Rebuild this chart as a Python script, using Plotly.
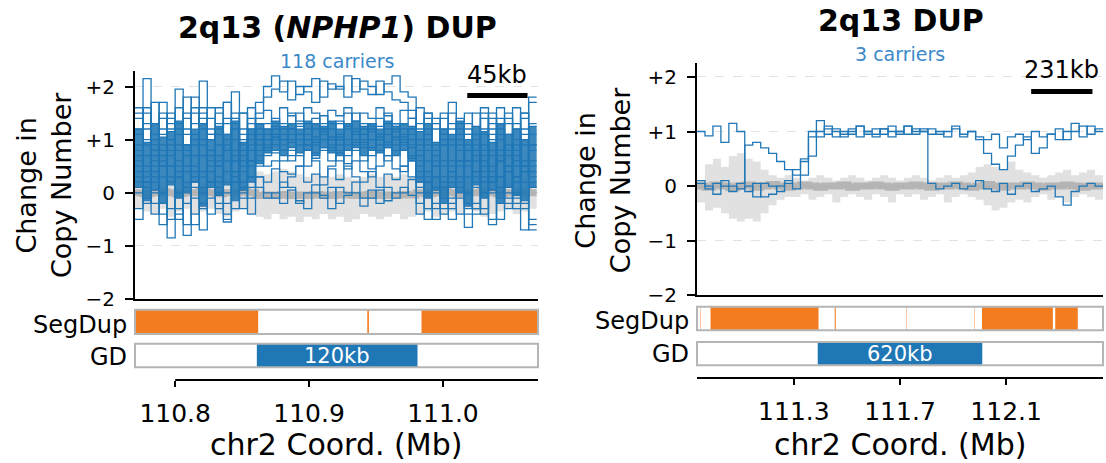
import plotly.graph_objects as go

W, H = 1106, 463
FONT = "DejaVu Sans, Liberation Sans, Arial, sans-serif"
BLUE = "#2077b6"
ORANGE = "#f47c20"
SUBBLUE = "#3b89c9"

# ---------------- data ----------------
titles = ["<b>2q13 (<i>NPHP1</i>) DUP</b>", "<b>2q13 DUP</b>"]
n_carriers = [118, 3]
scale_kb = [45, 231]
x_range_L = [110.770, 111.071]
x_range_R = [110.935, 112.465]
xtick_L = [110.8, 110.9, 111.0]
xtick_R = [111.3, 111.7, 112.1]
ytick_vals = [2, 1, 0, -1, -2]
ytick_text = ["+2", "+1", "0", "\u22121", "\u22122"]

binL_start, binL_width = 110.770, 0.006
binR_start, binR_width = 110.935, 0.030

segdup_L = [(110.770, 110.862), (110.9435, 110.9447), (110.984, 111.071)]
segdup_R = [(110.9485, 110.9500), (110.986, 111.393), (111.454, 111.458),
            (111.7245, 111.7260), (111.9795, 111.9810), (112.009, 112.276),
            (112.285, 112.370)]
gd_L = (110.861, 110.981)
gd_R = (111.390, 112.010)

# left panel: control distribution (50 bins)
ctrlL_lo = [-0.3, -0.35, -0.4, -0.3, -0.45, -0.35, -0.3, -0.4, -0.35, -0.3, -0.4, -0.45, -0.35, -0.3, -0.4,
            -0.45, -0.5, -0.4, -0.5, -0.45, -0.55, -0.45, -0.5, -0.4, -0.5, -0.45, -0.55, -0.5, -0.4, -0.45,
            -0.5, -0.45, -0.4, -0.5, -0.45,
            -0.4, -0.35, -0.45, -0.4, -0.35, -0.4, -0.3, -0.35, -0.45, -0.4, -0.35, -0.3, -0.4, -0.35, -0.3]
ctrlL_hi = [0.25, 0.2, 0.3, 0.2, 0.25, 0.3, 0.2, 0.25, 0.2, 0.3, 0.25, 0.2, 0.3, 0.25, 0.2,
            0.4, 0.35, 0.4, 0.45, 0.4, 0.35, 0.3, 0.35, 0.3, 0.3, 0.35, 0.3, 0.25, 0.3, 0.35,
            0.3, 0.35, 0.3, 0.35, 0.3,
            0.3, 0.25, 0.3, 0.25, 0.2, 0.3, 0.25, 0.2, 0.25, 0.3, 0.25, 0.2, 0.25, 0.3, 0.2]
ctrlL_med = [0.0, -0.02, 0.0, 0.02, 0.0, -0.02, 0.0, 0.0, 0.02, 0.0, -0.02, 0.0, 0.0, 0.02, 0.0,
             -0.05, -0.04, -0.05, -0.03, -0.05, -0.04, -0.05, -0.03, -0.04, -0.05,
             -0.03, -0.04, -0.05, -0.04, -0.03, -0.05, -0.04, -0.05, -0.03, -0.04,
             0.0, -0.02, 0.0, 0.02, 0.0, -0.02, 0.0, 0.0, 0.02, 0.0, -0.02, 0.0, 0.0, 0.02, 0.0]

# left panel: dense core spanned by most of the 118 carrier traces
coreL_lo = [0.1, -0.15, 0.05, -0.2, 0.15, -0.1, 0.0, 0.2, -0.25, 0.1, -0.05, 0.15, -0.15, 0.05, 0.2,
            0.55, 0.75, 0.8, 0.7, 0.85, 0.75, 0.8, 0.7, 0.85, 0.75, 0.7, 0.8, 0.85, 0.7, 0.8,
            0.75, 0.85, 0.7, 0.8, 0.6,
            0.2, -0.1, 0.05, -0.2, 0.1, 0.0, -0.25, 0.15, -0.1, 0.05, -0.2, 0.1, -0.05, -0.15, 0.1]
coreL_hi = [1.2, 0.95, 1.3, 1.05, 1.15, 1.35, 0.9, 1.2, 1.3, 1.0, 1.25, 1.1, 1.35, 0.95, 1.2,
            1.3, 1.2, 1.35, 1.25, 1.3, 1.2, 1.35, 1.3, 1.25, 1.35, 1.2, 1.3, 1.35, 1.25, 1.3,
            1.2, 1.35, 1.25, 1.3, 1.25,
            1.15, 1.3, 0.95, 1.2, 1.1, 1.35, 1.0, 1.25, 1.15, 0.95, 1.3, 1.1, 1.2, 1.0, 1.25]

# left panel: representative carrier traces
carL_01 = [0.9, 1.5, 0.4, 1.1, 0.7, 1.6, 0.2, 1.0, 1.3, 0.5, 1.2, 0.8, 1.4, 0.6, 1.0,
           1.7, 2.0, 2.2, 1.9, 2.1, 1.85, 2.0, 2.15, 1.8, 2.05, 1.95, 2.2, 1.9, 2.1, 2.0, 1.85, 2.05, 2.2, 1.9, 1.8,
           0.5, 1.1, -0.2, 0.9, 0.3, 1.3, 0.0, 0.8, 1.2, 0.4, 1.0, -0.3, 0.7, 1.5, 0.6]
carL_02 = [0.3, 2.15, 0.8, -0.2, 1.0, 0.6, 1.4, -0.4, 0.9, 1.1, 0.0, 1.7, 0.4, 1.2, 0.8,
           1.5, 1.8, 1.95, 2.1, 1.75, 2.0, 1.9, 1.7, 2.1, 1.95, 2.0, 1.8, 2.15, 1.95, 1.85, 2.1, 1.9, 1.75, 1.7, 1.55,
           1.2, 0.2, 0.9, 1.4, -0.1, 0.6, 1.1, 0.3, 1.6, 0.0, 0.8, 1.3, -0.2, 0.5, 1.8]
carL_03 = [-0.3, 0.2, -0.2, 0.5, -0.85, 0.3, -0.8, 0.1, -0.7, 0.6, -0.2, -0.55, 0.4, -0.1, 0.3,
           0.1, -0.1, 0.0, -0.2, 0.05, -0.15, -0.3, 0.0, -0.1, 0.1, -0.2, -0.05, 0.0, -0.25, -0.1, 0.05, -0.15, 0.0, 0.1, -0.05,
           -0.2, 0.3, -0.5, 0.1, -0.3, 0.6, -0.65, -0.4, 0.2, -0.6, 0.0, 0.4, -0.3, -0.7, 0.1]
carL_04 = [0.4, -0.1, 0.7, 0.0, 0.5, -0.4, 0.9, 0.2, -0.3, 0.8, 0.3, -0.2, 0.6, 0.1, -0.1,
           0.3, 0.0, -0.1, 0.2, 0.1, -0.2, 0.0, 0.15, -0.05, -0.3, 0.1, 0.0, 0.2, -0.1, 0.05, -0.2, 0.1, -0.1, 0.0, 0.25,
           0.0, -0.3, 0.5, -0.1, 0.4, 0.2, -0.2, 0.7, -0.4, 0.3, 0.6, -0.1, 0.2, -0.3, 0.5]
carL_05 = [0.6, 1.2, 0.0, 0.9, 1.4, 0.3, 1.1, 0.5, -0.2, 1.0, 0.7, 1.3, 0.2, 0.8, 1.1,
           1.0, 1.2, 0.9, 1.1, 0.8, 1.3, 1.0, 0.95, 1.15, 0.85, 1.05, 1.25, 0.9, 1.1, 1.0, 0.8, 1.2, 1.05, 0.9, 1.1,
           0.7, 0.2, 1.2, 0.5, 0.9, -0.1, 1.1, 0.6, 0.3, 1.4, 0.8, 0.1, 1.0, 0.4, 0.9]
carL_06 = [1.1, 0.4, 0.8, 1.5, 0.5, 1.95, 0.1, 1.3, 2.1, 0.2, 1.5, 0.4, 1.0, 0.0, 1.2,
           0.9, 0.8, 1.1, 1.3, 0.95, 0.7, 1.2, 1.05, 0.85, 1.3, 1.0, 0.8, 1.15, 0.95, 1.25, 1.05, 0.85, 1.0, 1.2, 0.9,
           0.2, 0.8, 0.5, -0.3, 1.0, 0.6, 1.3, 0.1, 0.7, 1.1, -0.1, 0.9, 0.5, 1.2, 0.3]
carL_07 = [0.2, 0.9, 1.3, 0.6, -0.5, 1.1, 0.7, 0.3, 1.6, 0.8, 0.1, 0.9, 1.9, 0.5, 0.6,
           1.2, 1.0, 0.75, 0.9, 1.2, 1.1, 0.8, 1.3, 1.0, 0.9, 1.1, 0.7, 1.0, 1.3, 0.85, 1.1, 0.95, 1.3, 0.8, 1.0,
           1.0, 0.4, 0.1, 1.1, 0.6, 0.9, 0.3, 1.5, 0.4, 0.8, 1.2, 0.5, -0.1, 0.9, 1.1]
carL_08 = [0.8, 0.1, 0.6, 1.2, 0.9, -0.3, 0.5, 1.8, 0.3, 1.2, 0.9, -0.5, 0.7, 1.1, 0.3,
           0.8, 1.1, 1.05, 0.8, 1.0, 1.25, 0.9, 0.75, 1.1, 1.2, 0.8, 1.0, 1.1, 0.85, 1.15, 0.9, 1.1, 0.8, 1.05, 1.2,
           0.4, 1.2, 0.8, 0.6, -0.2, 1.1, 0.5, 0.9, 0.0, 1.3, 0.3, 0.7, 1.2, 0.2, -0.7]
carL_09 = [1.4, 0.7, 0.2, 0.5, 1.2, 0.8, 1.5, -0.1, 1.0, 0.4, 1.3, 0.6, 0.8, 1.5, 0.1,
           1.1, 0.85, 1.0, 1.2, 1.1, 0.9, 1.1, 1.2, 0.8, 1.05, 1.3, 0.9, 0.8, 1.2, 1.0, 1.25, 0.9, 1.15, 1.0, 0.85,
           0.9, 0.0, 1.4, 0.2, 1.7, 1.0, 0.6, -0.2, 1.1, 0.5, 1.4, 0.8, 0.3, 1.1, 1.3]
carL_10 = [0.0, 1.0, 0.9, -0.4, 0.8, 0.5, 0.9, 0.7, 1.2, -0.1, 0.6, 1.1, 0.3, 0.9, 1.4,
           0.6, 1.3, 1.1, 1.0, 0.7, 1.0, 1.3, 0.9, 1.2, 1.0, 0.6, 1.2, 1.0, 1.1, 0.7, 1.0, 1.3, 0.9, 1.1, 0.7,
           1.3, 0.6, 0.3, 0.9, 1.2, 0.1, 0.8, 1.0, 0.6, 0.2, 0.7, 1.1, 0.8, 0.6, 0.4]
carL_11 = [0.5, 0.3, 1.1, 0.8, 0.2, 1.3, 0.4, 0.9, 0.7, 1.4, 0.5, 0.2, 1.2, 0.7, 0.5,
           0.7, 0.5, 0.6, 0.4, 0.35, 0.5, 0.8, 0.6, 0.3, 0.5, 0.9, 0.45, 0.6, 0.4, 0.3, 0.5, 0.7, 0.45, 0.4, 0.6,
           0.1, 0.9, 0.7, 0.3, 0.5, 0.8, -0.3, 0.4, 0.9, 0.7, 0.3, 0.0, 0.9, 0.4, 0.8]
carL_12 = [1.2, 0.5, 0.3, 0.7, 1.0, 0.0, 0.8, 1.1, 0.4, 0.7, 0.2, 1.0, 0.6, 0.2, 0.9,
           1.3, 1.0, 1.2, 0.8, 1.5, 1.1, 1.0, 1.4, 1.2, 0.8, 1.0, 1.5, 1.2, 1.0, 1.3, 1.1, 1.5, 1.2, 1.3, 1.4,
           0.6, 1.0, 0.0, 1.2, 0.4, 0.3, 0.9, 0.2, 0.5, 1.0, 0.6, 0.4, 0.6, 1.0, 0.2]
carL_13 = [1.5, 0.2, 1.0, -0.6, 1.3, 0.4, -0.2, 1.6, 0.1, 1.1, -0.3, 1.4, 0.2, 1.0, -0.4,
           1.4, 1.55, 1.3, 1.6, 1.45, 1.35, 1.6, 1.5, 1.3, 1.55, 1.45, 1.6, 1.35, 1.5, 1.4, 1.6, 1.45, 1.3, 1.55, 1.4,
           -0.4, 1.5, 0.3, 1.0, -0.5, 1.2, 0.6, -0.3, 1.4, 0.2, 1.6, -0.2, 1.3, 0.5, -0.5]
carL_14 = [-0.5, 1.3, 0.5, 1.7, -0.3, 0.9, 1.8, -0.6, 1.4, 0.2, 1.6, 0.0, 1.3, -0.3, 1.6,
           0.5, 0.9, 1.4, 0.6, 1.2, 1.5, 0.5, 1.0, 1.45, 0.6, 1.35, 0.55, 1.5, 0.9, 0.45, 1.4, 0.6, 1.3, 0.5, 1.2,
           1.6, -0.5, 1.3, 0.1, 1.5, -0.4, 1.2, 0.4, 1.5, -0.5, 1.1, 1.5, 0.0, 1.4, 1.7]
carL_15 = [1.6, -0.2, 1.7, 0.3, 1.5, -0.5, 1.2, 0.4, 1.5, -0.4, 1.1, 1.7, -0.3, 1.5, 0.6,
           1.0, 0.7, 1.25, 1.0, 0.6, 1.3, 0.9, 0.65, 1.2, 1.0, 0.75, 1.3, 0.95, 0.6, 1.2, 1.0, 0.7, 1.25, 0.95, 0.65,
           0.3, 1.4, -0.3, 1.5, 0.2, 1.4, -0.4, 1.1, -0.3, 1.5, 0.1, 0.5, 1.6, -0.2, 0.9]
carL_16 = [0.7, 1.6, -0.4, 1.4, 0.3, 1.2, -0.6, 1.5, 0.0, 1.6, 0.5, -0.4, 1.5, 0.4, 1.3,
           0.3, 0.2, 0.45, 0.1, 0.3, 0.5, 0.2, 0.35, 0.15, 0.45, 0.25, 0.5, 0.3, 0.2, 0.4, 0.1, 0.35, 0.25, 0.5, 0.3,
           0.8, 1.5, 0.6, -0.4, 1.3, 0.5, 1.5, -0.3, 0.8, 1.2, -0.5, 1.4, 0.3, 1.5, -0.6]
carriers_L = [carL_01, carL_02, carL_03, carL_04, carL_05, carL_06, carL_07, carL_08,
              carL_09, carL_10, carL_11, carL_12, carL_13, carL_14, carL_15, carL_16]

# right panel: control distribution (51 bins)
ctrlR_lo = [-0.3, -0.45, -0.4, -0.5, -0.6, -0.65, -0.6, -0.65, -0.5, -0.35, -0.25, -0.2,
            -0.2, -0.15, -0.25, -0.2, -0.15, -0.3, -0.2, -0.15, -0.2, -0.25,
            -0.15, -0.2, -0.3, -0.15, -0.2, -0.15, -0.25, -0.2, -0.15, -0.3,
            -0.2, -0.15, -0.2, -0.25, -0.35, -0.45, -0.4, -0.3, -0.25, -0.3,
            -0.2, -0.15, -0.25, -0.2, -0.3, -0.2, -0.15, -0.2, -0.25]
ctrlR_hi = [0.1, 0.4, 0.5, 0.35, 0.55, 0.6, 0.5, 0.45, 0.3, 0.2, 0.15, 0.2,
            0.15, 0.1, 0.15, 0.2, 0.15, 0.1, 0.15, 0.2, 0.15, 0.1,
            0.15, 0.2, 0.15, 0.1, 0.15, 0.2, 0.15, 0.1, 0.15, 0.2,
            0.15, 0.2, 0.25, 0.35, 0.4, 0.35, 0.3, 0.45, 0.3, 0.25,
            0.2, 0.15, 0.2, 0.25, 0.3, 0.2, 0.25, 0.3, 0.2]
ctrlR_med = [0.0, -0.02, 0.02, 0.0, -0.03, 0.0, 0.02, -0.02, 0.0, 0.03,
             0.0, -0.02, 0.0, 0.02, 0.0, -0.02, 0.0, 0.0, 0.02, -0.02,
             0.0, 0.0, 0.02, 0.0, -0.02, 0.0, 0.0, 0.02, 0.0, -0.02,
             0.0, 0.0, 0.02, 0.0, -0.02, 0.0, 0.03, 0.0, -0.02, 0.0,
             0.0, 0.02, 0.0, -0.02, 0.0, 0.0, 0.02, 0.0, -0.02, 0.0, 0.0]

# right panel: the 3 carriers
carR_A = [1.0, 0.92, 1.1, 0.8, 1.15, 1.0,
          -0.1, 0.05, -0.2, -0.15, 0.0, 0.1, -0.05, 0.2, 0.55,
          1.2, 0.95, 1.05, 0.9, 1.0, 1.1, 0.95, 0.9, 1.05, 1.0, 0.95, 1.1, 1.0, 1.05,
          0.95, 1.0, 0.9, 1.05, 0.95, 1.0, 0.9, 0.85, 0.95, 0.7, 0.9, 0.95, 0.85, 1.0, 0.9,
          0.95, 1.05, 0.85, 1.0, 1.1, 0.95, 1.05]
carR_B = [0.1, -0.05, 0.05, 0.0, -0.1, 0.05,
          0.75, 0.8, 0.7, 0.6, 0.45, 0.3, 0.2, 0.45, 0.9,
          1.0, 1.05, 0.9, 1.0, 0.95, 1.1, 1.0, 0.95, 1.05, 0.9, 1.0, 1.1, 0.95, 1.0,
          0.05, -0.05, 0.0, 0.05, -0.05, 0.0, 0.1, -0.05, -0.1, 0.05, -0.15, 0.0, 0.05, -0.1,
          -0.05, 0.0, -0.2, -0.35, -0.1, 0.0, 0.05, 0.0]
carR_C = [0.05, 0.0, -0.15, 0.1, 0.0, -0.05,
          0.0, -0.2, 0.05, 0.0, -0.1, 0.05, 0.3, 0.5, 1.0,
          0.9, 1.1, 1.0, 0.95, 1.05, 0.9, 1.0, 1.05, 0.95, 1.1, 1.0, 0.95, 1.05, 1.0,
          1.05, 0.95, 1.0, 1.1, 0.9, 1.0, 0.85, 0.6, 0.4, 0.3, 0.55, 0.75, 0.9, 0.6, 0.7,
          0.95, 0.85, 1.0, 1.15, 0.9, 1.1, 1.0]
carriers_R = [carR_A, carR_B, carR_C]

nL, nR = len(ctrlL_med), len(ctrlR_med)
for arr in [ctrlL_lo, ctrlL_hi, coreL_lo, coreL_hi] + carriers_L:
    assert len(arr) == nL, len(arr)
for arr in [ctrlR_lo, ctrlR_hi] + carriers_R:
    assert len(arr) == nR, len(arr)


def steps(start, width, vals):
    xs = [round(start + width * i, 6) for i in range(len(vals) + 1)]
    ys = list(vals) + [vals[-1]]
    return xs, ys


def py(px):  # pixel row -> paper y
    return 1 - px / H


def pxx(px):  # pixel column -> paper x
    return px / W


fig = go.Figure()


def add_panel(xa, ya, start, width, lo, hi, med, core_lo, core_hi, carriers):
    x, ylo = steps(start, width, lo)
    _, yhi = steps(start, width, hi)
    fig.add_trace(go.Scatter(x=x, y=ylo, mode="lines", line=dict(width=0, shape="hv"),
                             xaxis=xa, yaxis=ya, hoverinfo="skip"))
    fig.add_trace(go.Scatter(x=x, y=yhi, mode="lines", line=dict(width=0, shape="hv"),
                             fill="tonexty", fillcolor="rgba(200,200,200,0.55)",
                             xaxis=xa, yaxis=ya, hoverinfo="skip"))
    _, ym = steps(start, width, med)
    fig.add_trace(go.Scatter(x=x, y=ym, mode="lines",
                             line=dict(width=7, shape="hv", color="rgba(145,145,145,0.55)"),
                             xaxis=xa, yaxis=ya, hoverinfo="skip"))
    if core_lo is not None:
        _, yclo = steps(start, width, core_lo)
        _, ychi = steps(start, width, core_hi)
        fig.add_trace(go.Scatter(x=x, y=yclo, mode="lines", line=dict(width=1.2, shape="hv", color=BLUE),
                                 xaxis=xa, yaxis=ya, hoverinfo="skip"))
        fig.add_trace(go.Scatter(x=x, y=ychi, mode="lines", line=dict(width=1.2, shape="hv", color=BLUE),
                                 fill="tonexty", fillcolor="rgba(32,119,182,0.88)",
                                 xaxis=xa, yaxis=ya, hoverinfo="skip"))
    for c in carriers:
        _, yc = steps(start, width, c)
        fig.add_trace(go.Scatter(x=x, y=yc, mode="lines",
                                 line=dict(width=1.3, shape="hv", color=BLUE),
                                 xaxis=xa, yaxis=ya, hoverinfo="skip"))


add_panel("x", "y", binL_start, binL_width, ctrlL_lo, ctrlL_hi, ctrlL_med, coreL_lo, coreL_hi, carriers_L)
add_panel("x4", "y4", binR_start, binR_width, ctrlR_lo, ctrlR_hi, ctrlR_med, None, None, carriers_R)


def add_track(xa, ya, intervals, color):
    for s, e in intervals:
        fig.add_trace(go.Scatter(x=[s, e, e, s, s], y=[0, 0, 1, 1, 0], mode="lines",
                                 fill="toself", fillcolor=color, line=dict(width=0),
                                 xaxis=xa, yaxis=ya, hoverinfo="skip"))


add_track("x2", "y2", segdup_L, ORANGE)
add_track("x3", "y3", [gd_L], BLUE)
add_track("x5", "y5", segdup_R, ORANGE)
add_track("x6", "y6", [gd_R], BLUE)

# ---------------- layout ----------------
dom_L = [pxx(135), pxx(538)]
dom_R = [pxx(697), pxx(1103)]
hidden = dict(showline=False, showticklabels=False, ticks="", showgrid=False, zeroline=False)


def main_y(dom, rng, anchor):
    return dict(domain=dom, range=rng, anchor=anchor, tickvals=ytick_vals, ticktext=ytick_text,
                ticks="outside", ticklen=8, tickwidth=2, tickcolor="black",
                showline=True, linewidth=2, linecolor="black",
                showgrid=True, gridcolor="#e3e3e3", griddash="dash", gridwidth=1,
                zeroline=False, tickfont=dict(size=20, color="black", family=FONT),
                ticklabelstandoff=6)


def main_x(dom, rng, anchor):
    return dict(domain=dom, range=rng, anchor=anchor, showline=True, linewidth=2,
                linecolor="black", ticks="", showticklabels=False, showgrid=False, zeroline=False)


def coord_x(dom, rng, pos, tv, line):
    return dict(domain=dom, range=rng, anchor="free", position=pos, tickvals=tv,
                ticktext=[f"{v:.1f}" for v in tv], ticks="outside", ticklen=6, tickwidth=2,
                tickcolor="black", showline=line, linewidth=2, linecolor="black",
                showgrid=False, zeroline=False, ticklabelstandoff=5,
                tickfont=dict(size=25, color="black", family=FONT))


fig.update_layout(
    width=W, height=H, margin=dict(l=0, r=0, t=0, b=0),
    paper_bgcolor="white", plot_bgcolor="white", showlegend=False,
    font=dict(family=FONT, color="black"),
    xaxis=main_x(dom_L, x_range_L, "y"),
    yaxis=main_y([py(307), py(73)], [-2, 2.29], "x"),
    xaxis2=dict(domain=dom_L, range=x_range_L, anchor="y2", **hidden),
    yaxis2=dict(domain=[py(343), py(318)], range=[0, 1], anchor="x2", **hidden),
    xaxis3=coord_x(dom_L, x_range_L, py(390), xtick_L, False),
    yaxis3=dict(domain=[py(377), py(353)], range=[0, 1], anchor="x3", **hidden),
    xaxis4=main_x(dom_R, x_range_R, "y4"),
    yaxis4=main_y([py(303), py(65)], [-2, 2.25], "x4"),
    xaxis5=dict(domain=dom_R, range=x_range_R, anchor="y5", **hidden),
    yaxis5=dict(domain=[py(339), py(315)], range=[0, 1], anchor="x5", **hidden),
    xaxis6=coord_x(dom_R, x_range_R, py(388), xtick_R, True),
    yaxis6=dict(domain=[py(375), py(351)], range=[0, 1], anchor="x6", **hidden),
)

shapes = []
for xa, ya in [("x2", "y2"), ("x3", "y3"), ("x5", "y5"), ("x6", "y6")]:
    shapes.append(dict(type="rect", xref=f"{xa} domain", yref=f"{ya} domain", x0=0, x1=1, y0=0, y1=1,
                       line=dict(color="#b5b5b5", width=2), layer="above"))
shapes.append(dict(type="line", xref="x3", yref="paper", x0=xtick_L[0], x1=x_range_L[1],
                   y0=py(390), y1=py(390), line=dict(color="black", width=2)))

annotations = []
for xa, rng, kb, ybar, ytxt in [("x", x_range_L, scale_kb[0], 98, 77), ("x4", x_range_R, scale_kb[1], 94, 72)]:
    right = rng[1] - 0.026 * (rng[1] - rng[0])
    left = right - kb / 1000.0
    shapes.append(dict(type="line", xref=xa, yref="paper", x0=left, x1=right, y0=py(ybar), y1=py(ybar),
                       line=dict(color="black", width=5)))
    annotations.append(dict(xref=xa, yref="paper", x=(left + right) / 2, y=py(ytxt), text=f"{kb}kb",
                            showarrow=False, font=dict(size=24, color="black"), xanchor="center", yanchor="middle"))

annotations += [
    dict(xref="paper", yref="paper", x=pxx(337), y=py(28), text=titles[0], showarrow=False,
         font=dict(size=30, color="black"), xanchor="center", yanchor="middle"),
    dict(xref="paper", yref="paper", x=pxx(901), y=py(21), text=titles[1], showarrow=False,
         font=dict(size=30, color="black"), xanchor="center", yanchor="middle"),
    dict(xref="paper", yref="paper", x=pxx(337), y=py(63), text=f"{n_carriers[0]} carriers", showarrow=False,
         font=dict(size=19, color=SUBBLUE), xanchor="center", yanchor="middle"),
    dict(xref="paper", yref="paper", x=pxx(900), y=py(55), text=f"{n_carriers[1]} carriers", showarrow=False,
         font=dict(size=19, color=SUBBLUE), xanchor="center", yanchor="middle"),
]
for xc, yc in [(44, 190), (603, 185)]:
    annotations.append(dict(xref="paper", yref="paper", x=pxx(xc), y=py(yc), text="Change in<br>Copy Number",
                            textangle=-90, showarrow=False, font=dict(size=27, color="black"),
                            xanchor="center", yanchor="middle"))
for xc in [336, 900]:
    annotations.append(dict(xref="paper", yref="paper", x=pxx(xc), y=py(456), text="chr2 Coord. (Mb)",
                            showarrow=False, font=dict(size=30, color="black"),
                            xanchor="center", yanchor="middle"))
for xr, ys in [(129, (334, 366)), (691, (330, 363))]:
    annotations.append(dict(xref="paper", yref="paper", x=pxx(xr), y=py(ys[0]), text="SegDup",
                            showarrow=False, font=dict(size=24, color="black"), xanchor="right", yanchor="middle"))
    annotations.append(dict(xref="paper", yref="paper", x=pxx(xr), y=py(ys[1]), text="GD",
                            showarrow=False, font=dict(size=24, color="black"), xanchor="right", yanchor="middle"))
for xa, ya, (s, e) in [("x3", "y3", gd_L), ("x6", "y6", gd_R)]:
    kb = int(round((e - s) * 1000))
    annotations.append(dict(xref=xa, yref=f"{ya} domain", x=(s + e) / 2, y=0.5, text=f"{kb}kb",
                            showarrow=False, font=dict(size=21, color="white"),
                            xanchor="center", yanchor="middle"))

fig.update_layout(shapes=shapes, annotations=annotations)
fig.write_html("out.html")
